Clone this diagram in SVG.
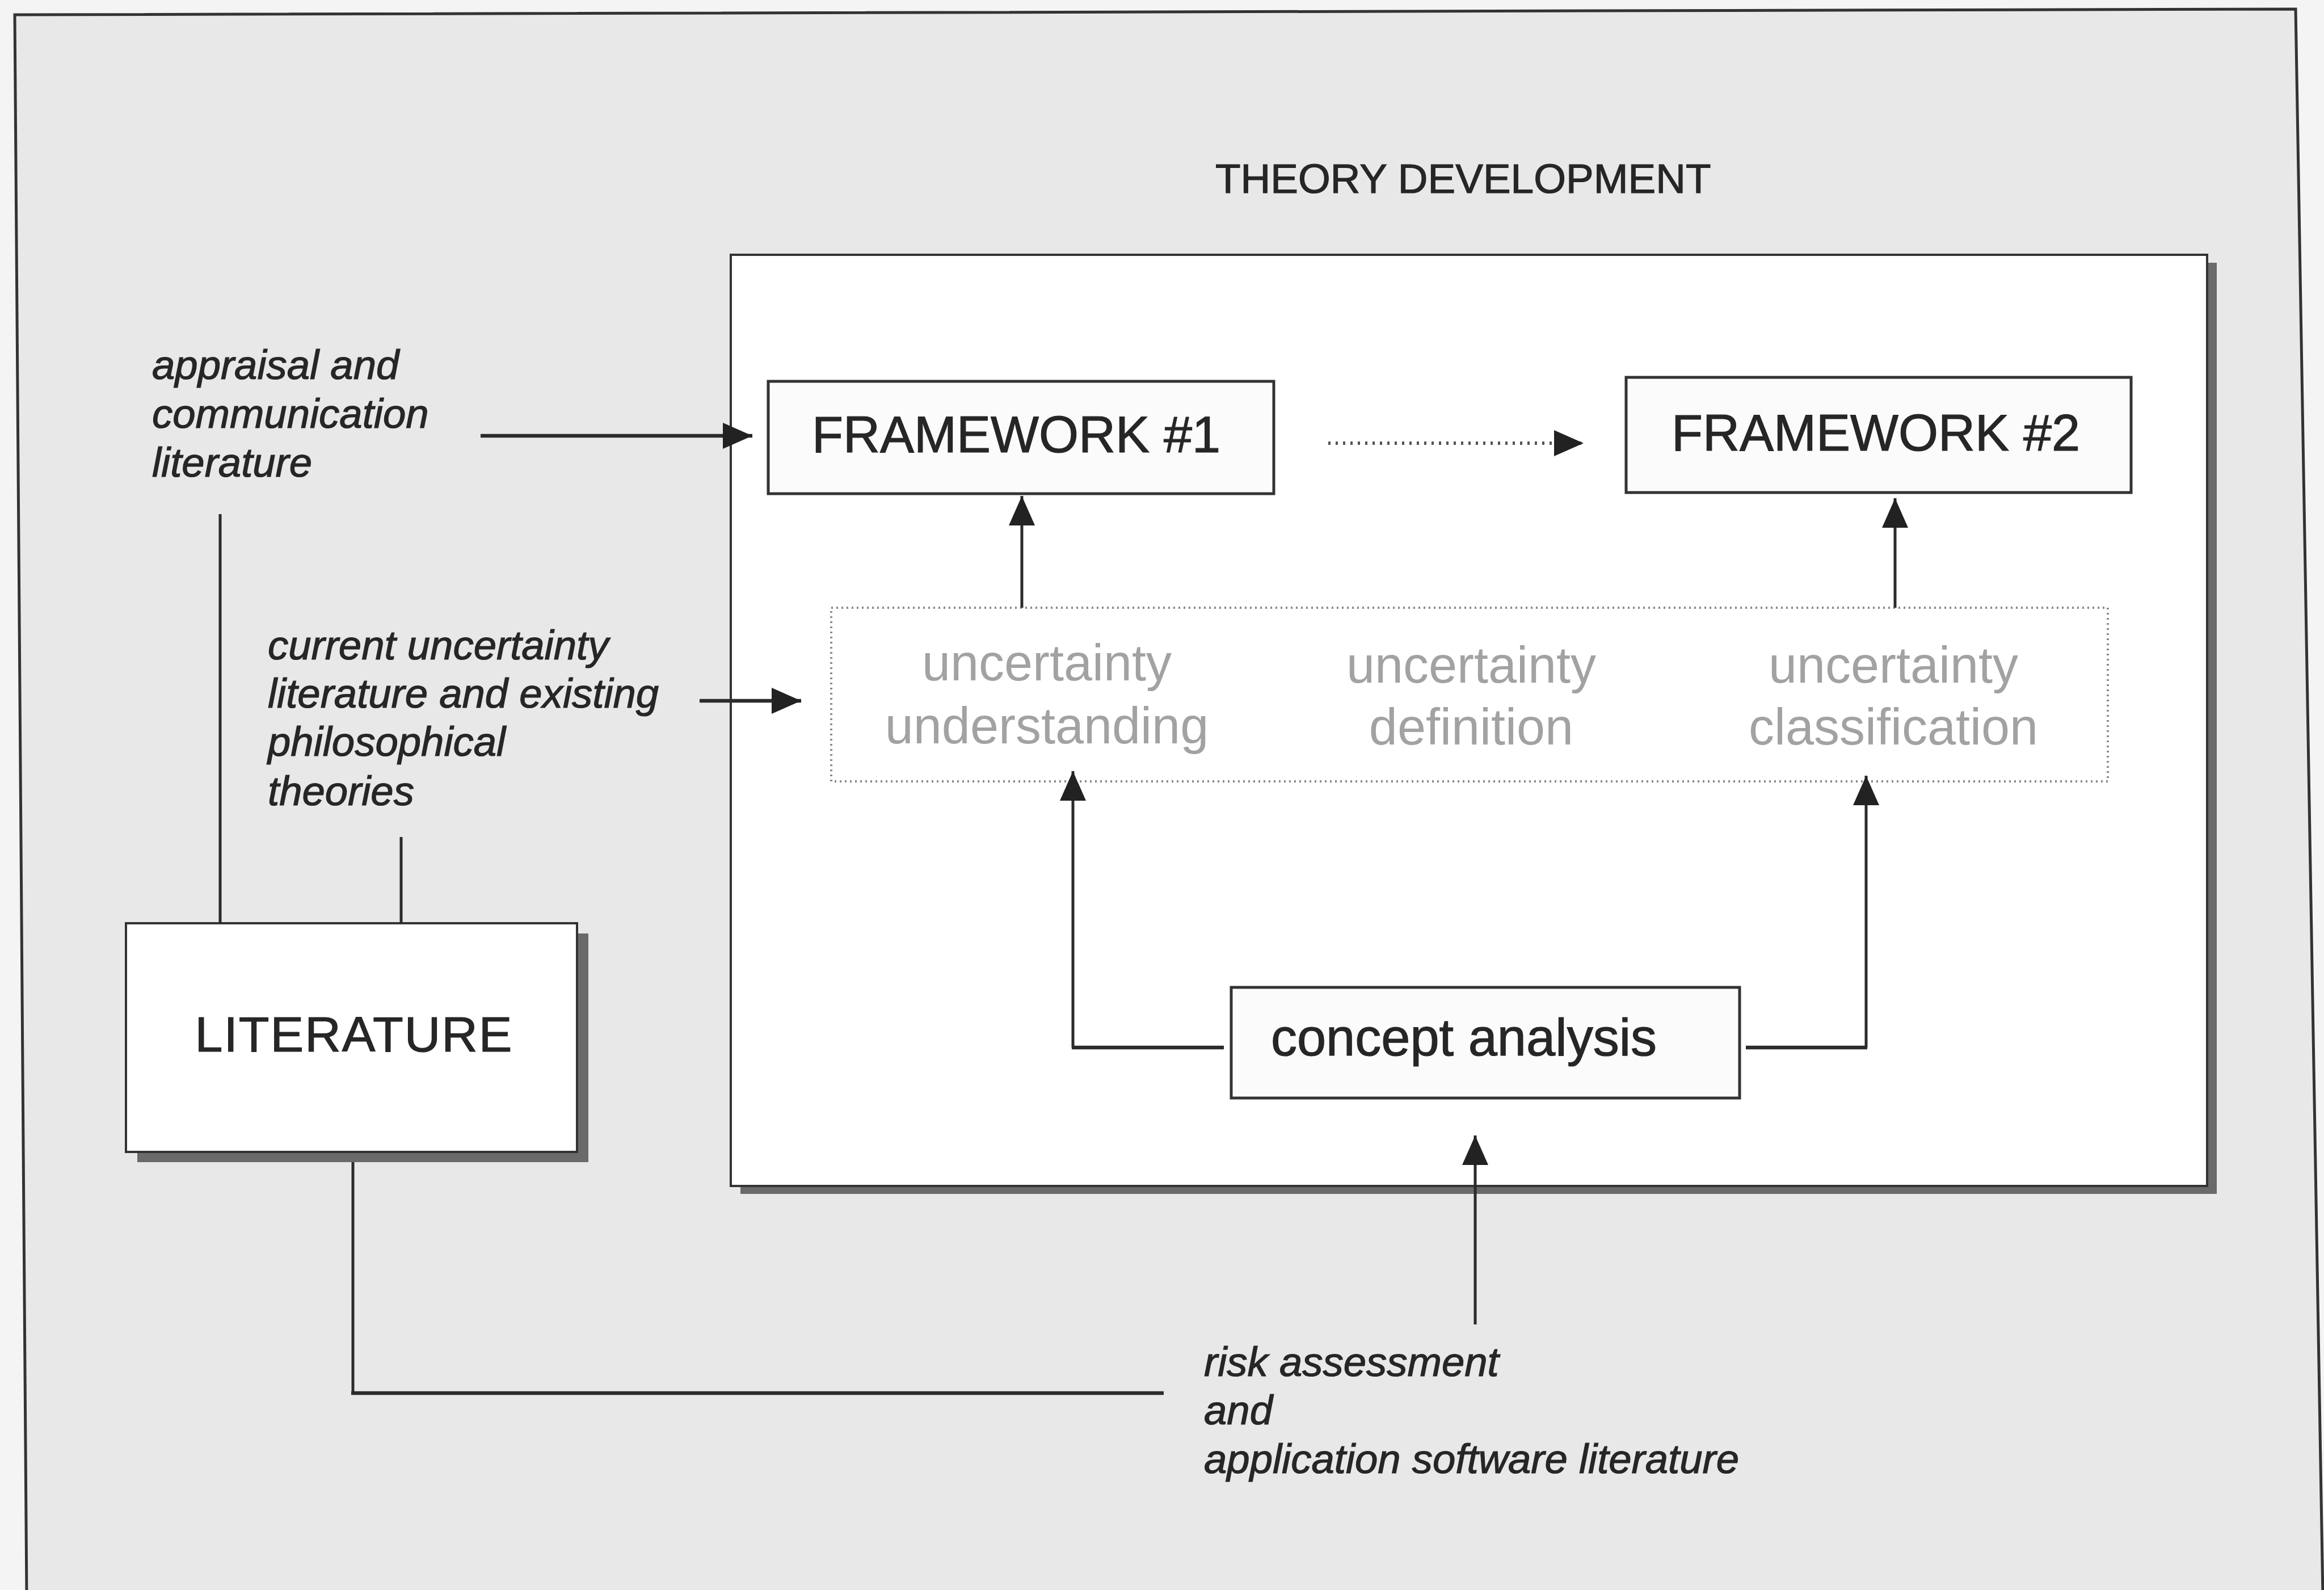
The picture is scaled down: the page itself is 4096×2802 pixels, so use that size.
<svg xmlns="http://www.w3.org/2000/svg" width="4096" height="2802" viewBox="0 0 4096 2802">
  <defs>
    <style>
      .box { fill: #fbfbfb; stroke: #333; stroke-width: 5; }
      .panel { fill: #ffffff; stroke: #333; stroke-width: 4; }
      .shadow { fill: #6a6a6a; }
      .txt { font-family: "Liberation Sans", Arial, sans-serif; fill: #262626; stroke: #262626; stroke-width: 1.2; }
      .it { font-style: italic; font-size: 72.5px; }
      .grey { fill: #a2a2a2; stroke: none; font-size: 90px; text-anchor: middle; }
      .conn { fill: none; stroke: #2b2b2b; stroke-width: 5; }
      .hz { stroke-width: 6.5; }
      .dots { stroke-dasharray: 4 9; stroke-width: 6; stroke: #555; }
    </style>
    <marker id="arrow" markerUnits="userSpaceOnUse" markerWidth="52" markerHeight="46" refX="52" refY="23" orient="auto" viewBox="0 0 52 46">
      <path d="M0,0 L52,23 L0,46 Z" fill="#222"/>
    </marker>
  </defs>

  <!-- page and outer frame -->
  <rect x="0" y="0" width="4096" height="2802" fill="#f4f4f4"/>
  <path d="M26,26 L4046,16 L4094,2812 L47,2812 Z" fill="#e8e8e8" stroke="#333" stroke-width="5"/>

  <text class="txt" x="2142" y="340" font-size="73">THEORY DEVELOPMENT</text>

  <!-- theory development panel -->
  <g id="theory-panel">
    <rect class="shadow" x="1305" y="463" width="2602" height="1641"/>
    <rect class="panel" x="1288" y="449" width="2602" height="1641"/>
  </g>

  <g id="framework1">
    <rect class="box" x="1354" y="672" width="891" height="198"/>
    <text class="txt" x="1791" y="797" font-size="90" text-anchor="middle">FRAMEWORK #1</text>
  </g>

  <g id="framework2">
    <rect class="box" x="2866" y="665" width="890" height="203"/>
    <text class="txt" x="3306" y="794" font-size="90" text-anchor="middle">FRAMEWORK #2</text>
  </g>

  <g id="uncertainty-group">
    <rect x="1465" y="1071" width="2250" height="306" fill="none" stroke="#8a8a8a" stroke-width="4" stroke-dasharray="3 6"/>
    <text class="txt grey" x="1845" y="1199">uncertainty</text>
    <text class="txt grey" x="1845" y="1310">understanding</text>
    <text class="txt grey" x="2593" y="1203">uncertainty</text>
    <text class="txt grey" x="2593" y="1312">definition</text>
    <text class="txt grey" x="3337" y="1203">uncertainty</text>
    <text class="txt grey" x="3337" y="1312">classification</text>
  </g>

  <g id="concept-analysis">
    <rect class="box" x="2170" y="1740" width="896" height="195"/>
    <text class="txt" x="2580" y="1860" font-size="92" text-anchor="middle">concept analysis</text>
  </g>

  <g id="literature">
    <rect class="shadow" x="242" y="1645" width="795" height="403"/>
    <rect class="panel" x="222" y="1627" width="795" height="403" stroke-width="5"/>
    <text class="txt" x="624" y="1853" font-size="88" text-anchor="middle" letter-spacing="2">LITERATURE</text>
  </g>

  <g id="label-appraisal">
    <text class="txt it" x="268" y="668">appraisal and</text>
    <text class="txt it" x="268" y="754">communication</text>
    <text class="txt it" x="268" y="840">literature</text>
  </g>

  <g id="label-current">
    <text class="txt it" x="472" y="1162">current uncertainty</text>
    <text class="txt it" x="472" y="1247">literature and existing</text>
    <text class="txt it" x="472" y="1332">philosophical</text>
    <text class="txt it" x="472" y="1419">theories</text>
  </g>

  <g id="label-risk">
    <text class="txt it" x="2122" y="2425">risk assessment</text>
    <text class="txt it" x="2122" y="2510">and</text>
    <text class="txt it" x="2122" y="2596">application software literature</text>
  </g>

  <!-- connectors -->
  <g id="connectors">
    <path class="conn hz" d="M847,768 H1326" marker-end="url(#arrow)"/>
    <path class="conn" d="M388,906 V1627"/>
    <path class="conn hz" d="M1233,1235 H1412" marker-end="url(#arrow)"/>
    <path class="conn" d="M707,1475 V1627"/>
    <path class="conn" d="M622,2048 V2455"/>
    <path class="conn hz" d="M619,2455 H2051"/>
    <path class="conn" d="M2600,2334 V2001" marker-end="url(#arrow)"/>
    <path class="conn hz" d="M2157,1846 H1889"/>
    <path class="conn" d="M1891,1846 V1359" marker-end="url(#arrow)"/>
    <path class="conn hz" d="M3077,1846 H3291"/>
    <path class="conn" d="M3289,1846 V1367" marker-end="url(#arrow)"/>
    <path class="conn" d="M1801,1071 V874" marker-end="url(#arrow)"/>
    <path class="conn" d="M3340,1071 V878" marker-end="url(#arrow)"/>
    <path class="conn dots" d="M2341,781 H2791" marker-end="url(#arrow)"/>
  </g>
</svg>
